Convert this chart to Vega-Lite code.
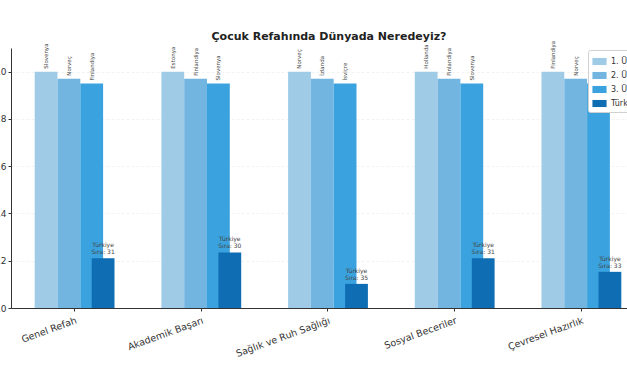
{
  "$schema": "https://vega.github.io/schema/vega-lite/v6.json",
  "autosize": {"type": "none"},
  "width": 616,
  "height": 260,
  "padding": {"left": 11, "top": 48, "right": 0, "bottom": 68},
  "background": "white",
  "config": {
    "font": "DejaVu Sans",
    "view": {"stroke": null},
    "axis": {"labelFont": "DejaVu Sans", "labelColor": "#333", "domainColor": "#333", "tickColor": "#333"}
  },
  "title": {
    "text": "Çocuk Refahında Dünyada Neredeyiz?",
    "fontSize": 11,
    "fontWeight": "bold",
    "color": "#222",
    "anchor": "middle",
    "dx": 10,
    "offset": -1
  },
  "data": {
    "values": [
      {"kategori": "Genel Refah", "sira": "1. Ülke", "ulke": "Slovenya", "deger": 1.0, "etiket": ""},
      {"kategori": "Genel Refah", "sira": "2. Ülke", "ulke": "Norveç", "deger": 0.97, "etiket": ""},
      {"kategori": "Genel Refah", "sira": "3. Ülke", "ulke": "Finlandiya", "deger": 0.95, "etiket": ""},
      {"kategori": "Akademik Başarı", "sira": "1. Ülke", "ulke": "Estonya", "deger": 1.0, "etiket": ""},
      {"kategori": "Akademik Başarı", "sira": "2. Ülke", "ulke": "Finlandiya", "deger": 0.97, "etiket": ""},
      {"kategori": "Akademik Başarı", "sira": "3. Ülke", "ulke": "Slovenya", "deger": 0.95, "etiket": ""},
      {"kategori": "Sağlık ve Ruh Sağlığı", "sira": "1. Ülke", "ulke": "Norveç", "deger": 1.0, "etiket": ""},
      {"kategori": "Sağlık ve Ruh Sağlığı", "sira": "2. Ülke", "ulke": "İzlanda", "deger": 0.97, "etiket": ""},
      {"kategori": "Sağlık ve Ruh Sağlığı", "sira": "3. Ülke", "ulke": "İsviçre", "deger": 0.95, "etiket": ""},
      {"kategori": "Sosyal Beceriler", "sira": "1. Ülke", "ulke": "Hollanda", "deger": 1.0, "etiket": ""},
      {"kategori": "Sosyal Beceriler", "sira": "2. Ülke", "ulke": "Finlandiya", "deger": 0.97, "etiket": ""},
      {"kategori": "Sosyal Beceriler", "sira": "3. Ülke", "ulke": "Slovenya", "deger": 0.95, "etiket": ""},
      {"kategori": "Çevresel Hazırlık", "sira": "1. Ülke", "ulke": "Finlandiya", "deger": 1.0, "etiket": ""},
      {"kategori": "Çevresel Hazırlık", "sira": "2. Ülke", "ulke": "Norveç", "deger": 0.97, "etiket": ""},
      {"kategori": "Çevresel Hazırlık", "sira": "3. Ülke", "ulke": "İsveç", "deger": 0.95, "etiket": ""},
      {"kategori": "Genel Refah", "sira": "Türkiye", "ulke": "Türkiye", "deger": 0.21, "etiket": "Türkiye\nSıra: 31"},
      {"kategori": "Akademik Başarı", "sira": "Türkiye", "ulke": "Türkiye", "deger": 0.235, "etiket": "Türkiye\nSıra: 30"},
      {"kategori": "Sağlık ve Ruh Sağlığı", "sira": "Türkiye", "ulke": "Türkiye", "deger": 0.102, "etiket": "Türkiye\nSıra: 35"},
      {"kategori": "Sosyal Beceriler", "sira": "Türkiye", "ulke": "Türkiye", "deger": 0.21, "etiket": "Türkiye\nSıra: 31"},
      {"kategori": "Çevresel Hazırlık", "sira": "Türkiye", "ulke": "Türkiye", "deger": 0.153, "etiket": "Türkiye\nSıra: 33"}
    ]
  },
  "encoding": {
    "x": {
      "field": "kategori",
      "type": "nominal",
      "sort": null,
      "scale": {"paddingInner": 0.28, "paddingOuter": 0.071, "align": 1},
      "axis": {
        "title": null,
        "labelAngle": -20,
        "labelAlign": "right",
        "labelBaseline": "top",
        "labelFontSize": 9.5,
        "labelPadding": 4,
        "tickSize": 3,
        "domainWidth": 1
      }
    },
    "xOffset": {
      "field": "sira",
      "type": "nominal",
      "scale": {
        "domain": ["p0", "1. Ülke", "p2", "2. Ülke", "p4", "3. Ülke", "Türkiye", "p7"],
        "paddingInner": 0,
        "paddingOuter": 0
      }
    },
    "y": {
      "field": "deger",
      "type": "quantitative",
      "scale": {"domain": [0, 1.1], "nice": false},
      "axis": {
        "title": null,
        "values": [0, 0.2, 0.4, 0.6, 0.8, 1.0],
        "format": ".1f",
        "labelFontSize": 9,
        "tickSize": 3,
        "gridColor": "#f0f0f0",
        "gridWidth": 0.8,
        "gridDash": [3, 2]
      }
    }
  },
  "layer": [
    {
      "mark": {"type": "bar", "width": 22.8},
      "encoding": {
        "color": {
          "field": "sira",
          "type": "nominal",
          "scale": {
            "domain": ["1. Ülke", "2. Ülke", "3. Ülke", "Türkiye"],
            "range": ["#9fcbe6", "#72b5e0", "#3aa3df", "#0f6db3"]
          },
          "legend": {
            "title": null,
            "orient": "none",
            "legendX": 577,
            "legendY": 2,
            "labelFontSize": 8,
            "labelColor": "#333",
            "symbolType": "M-1,-0.5H1V0.5H-1Z",
            "symbolSize": 200,
            "symbolStrokeWidth": 0,
            "rowPadding": 2,
            "padding": 4,
            "strokeColor": "#d0d0d0",
            "fillColor": "white",
            "cornerRadius": 2
          }
        }
      }
    },
    {
      "transform": [{"filter": "datum.sira != 'Türkiye'"}],
      "mark": {"type": "text", "angle": 270, "align": "left", "baseline": "middle", "dx": 3, "fontSize": 5.5, "color": "#444"},
      "encoding": {"text": {"field": "ulke"}}
    },
    {
      "transform": [{"filter": "datum.sira == 'Türkiye'"}],
      "mark": {"type": "text", "align": "center", "baseline": "bottom", "dy": -10, "fontSize": 6, "lineHeight": 7, "color": "#444", "lineBreak": "\n"},
      "encoding": {"text": {"field": "etiket"}}
    }
  ]
}
